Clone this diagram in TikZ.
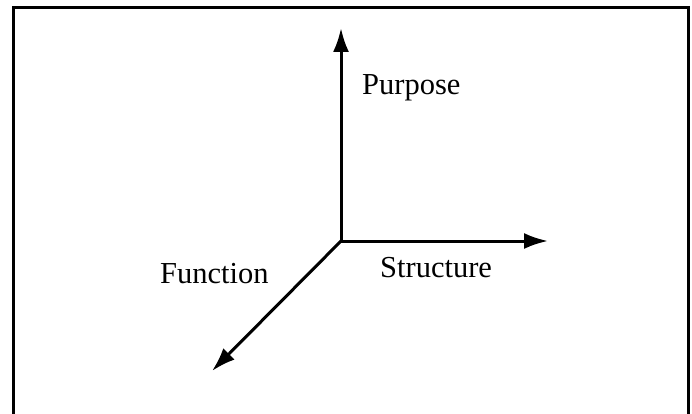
\documentclass[tikz,border=0pt]{standalone}
\usepackage{fontspec}
\setmainfont{Liberation Serif}
\usetikzlibrary{arrows.meta}
\begin{document}
\begin{tikzpicture}[x=1pt,y=-1pt,
  axis/.style={line width=3pt,-{Latex[length=24pt,width=16pt]}},
  lbl/.style={font=\fontsize{30.5}{36}\selectfont,inner sep=0pt,anchor=base west}]
\useasboundingbox (0,0) rectangle (692,414);
\draw[line width=3pt] (13.5,414) -- (13.5,8) -- (688.5,8) -- (688.5,414);
\coordinate (o) at (341,241);
\coordinate (up) at (341,28);
\coordinate (right) at (548,241);
\coordinate (dl) at (212,371);
\draw[axis] (o) -- (up);
\draw[axis] (o) -- (right);
\draw[axis] (o) -- (dl);
\node[lbl] (purpose) at (362,95) {Purpose};
\node[lbl] (structure) at (380,277) {Structure};
\node[lbl] (function) at (160,283) {Function};
\end{tikzpicture}
\end{document}
